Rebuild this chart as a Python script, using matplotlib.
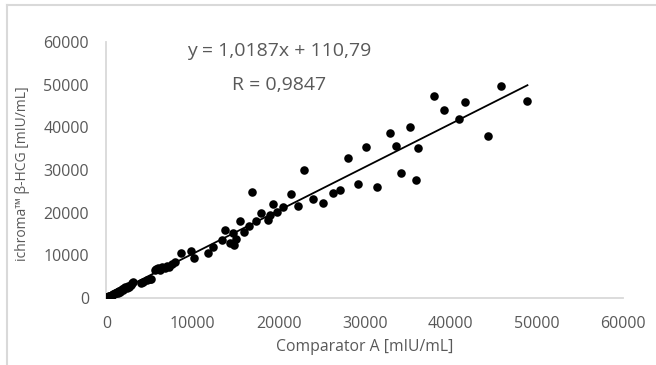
import matplotlib
matplotlib.use('Agg')
import matplotlib.pyplot as plt
import numpy as np

# Comparator A vs ichroma values
comp_a = [48900, 45800, 41700, 40900, 44300, 38000, 39200, 35200, 32900, 33600,
          36200, 30200, 34200, 35900, 28000, 29200, 31400, 23000, 27100, 26300,
          21400, 24000, 25200, 22200, 16900, 20500, 19300, 19800, 19000, 18000,
          18800, 17400, 15500, 16600, 16000, 14700, 13800, 13400, 14300, 15000,
          14800, 12400, 11800, 9800, 10200, 8600, 8000,
          7600, 7300, 7000, 6800, 6500, 6200, 6000, 5800, 5600, 5200,
          5000, 4700, 4300, 4000, 3100, 3000, 2800, 2600, 2500, 2400,
          2200, 2000, 1900, 1800, 1600, 1500, 1400, 1300, 1200, 1100,
          1000, 900, 800, 700, 600, 500, 400, 350, 300, 250,
          200, 150, 120, 100, 80, 50, 30, 20]
ichroma = [46100, 49800, 46000, 42100, 38000, 47500, 44100, 40000, 38700, 35600,
           35200, 35400, 29300, 27600, 32900, 26800, 26100, 29900, 25300, 24700,
           24400, 23100, 22300, 21600, 24900, 21400, 22000, 20200, 19400, 19800,
           18300, 18000, 18000, 16800, 15400, 15300, 16000, 13600, 12900, 13700,
           12400, 12000, 10500, 11000, 9300, 10400, 8500,
           7800, 7200, 7500, 7000, 7200, 6600, 7000, 6800, 6500, 4300,
           4500, 4200, 3800, 3500, 3800, 3500, 3000, 2600, 2700, 2300,
           2400, 2200, 1800, 2000, 1400, 1600, 1500, 1200, 1300, 1000,
           1100, 850, 900, 700, 650, 500, 450, 400, 280, 300,
           250, 120, 200, 150, 50, 80, 100, 30]

slope = 1.0187
intercept = 110.79
eq_text = 'y = 1,0187x + 110,79'
r_text = 'R = 0,9847'

x_ticks = [0, 10000, 20000, 30000, 40000, 50000, 60000]
y_ticks = [0, 10000, 20000, 30000, 40000, 50000, 60000]

plt.rcParams['font.family'] = ['Open Sans', 'DejaVu Sans']
txt_col = '#595959'
ax_col = '#d9d9d9'

fig = plt.figure(figsize=(6.56, 3.65), dpi=100)
ax = fig.add_axes([0.1623, 0.1844, 0.7874, 0.6996])

ax.scatter(comp_a, ichroma, s=38, color='black', zorder=3, linewidths=0)
xl = np.array([min(comp_a), max(comp_a)])
ax.plot(xl, slope * xl + intercept, color='black', lw=1.3, zorder=2)

ax.set_xlim(0, 60000)
ax.set_ylim(0, 60000)
ax.set_xticks(x_ticks)
ax.set_yticks(y_ticks)
ax.tick_params(length=0, labelsize=11.5, colors=txt_col)
ax.tick_params(axis='x', pad=13)
ax.tick_params(axis='y', pad=12.5)
for side in ['top', 'right']:
    ax.spines[side].set_visible(False)
for side in ['left', 'bottom']:
    ax.spines[side].set_color(ax_col)
    ax.spines[side].set_linewidth(1.3)

ax.set_xlabel('Comparator A [mIU/mL]', fontsize=11.3, color=txt_col, labelpad=5)
ax.set_ylabel('ichroma™ β-HCG [mIU/mL]', fontsize=10, color=txt_col)
ax.yaxis.set_label_coords(-0.148, 0.484)

fig.text(279 / 656, 1 - 51 / 365, eq_text, ha='center', va='center', fontsize=14, color=txt_col)
fig.text(279 / 656, 1 - 85 / 365, r_text, ha='center', va='center', fontsize=14, color=txt_col)

# frame of the surrounding document
fig.add_artist(plt.Line2D([7 / 656, 7 / 656], [0, 1 - 4.5 / 365], color=ax_col, lw=1.5))
fig.add_artist(plt.Line2D([7 / 656, 1], [1 - 4.5 / 365, 1 - 4.5 / 365], color=ax_col, lw=1.5))

fig.savefig('out.png', dpi=100)
